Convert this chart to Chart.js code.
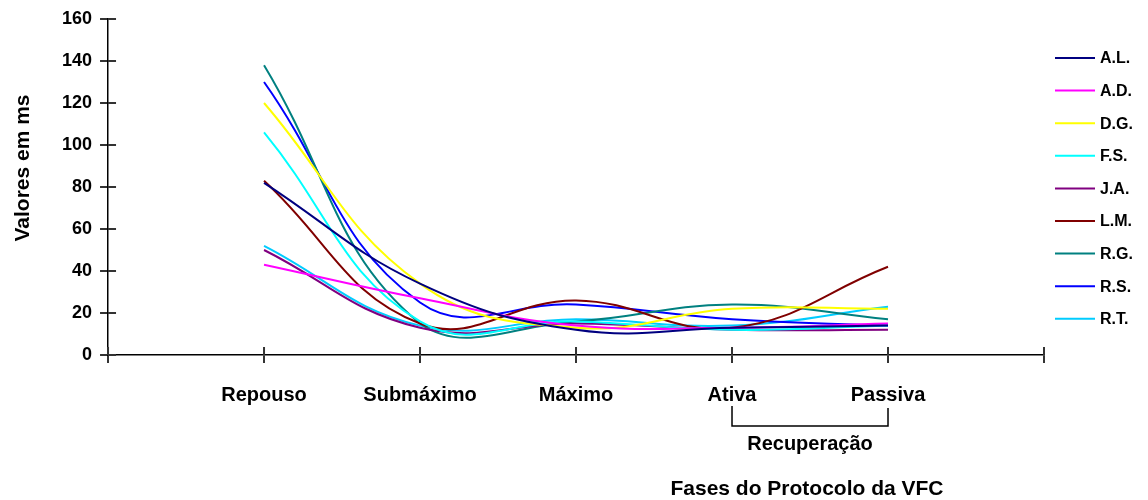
<!DOCTYPE html>
<html>
<head>
<meta charset="utf-8">
<script src="https://cdn.jsdelivr.net/npm/chart.js@4/dist/chart.umd.min.js"></script>
<style>
  html, body { margin: 0; padding: 0; background: #fff; }
  #wrap { width: 1148px; height: 500px; }
</style>
</head>
<body>
<div id="wrap"><canvas id="c"></canvas></div>
<script>
// Phases of the HRV protocol (x positions 1..5 on the axis)
const categories = ['Repouso', 'Submáximo', 'Máximo', 'Ativa', 'Passiva'];
const subjects = ['A.L.', 'A.D.', 'D.G.', 'F.S.', 'J.A.', 'L.M.', 'R.G.', 'R.S.', 'R.T.'];

// Values in ms per subject, one per phase
const valuesAL = [82, 34, 12, 13, 14];
const valuesAD = [43, 27, 14, 13, 15];
const valuesDG = [120, 34, 13, 22, 22];
const valuesFS = [106, 16, 16, 12, 14];
const valuesJA = [50, 13, 15, 12, 12];
const valuesLM = [83, 15, 26, 13, 42];
const valuesRG = [138, 15, 16, 24, 17];
const valuesRS = [130, 25, 24, 17, 14];
const valuesRT = [52, 14, 17, 14, 23];

const yTicks = [0, 20, 40, 60, 80, 100, 120, 140, 160];

const seriesValues = [valuesAL, valuesAD, valuesDG, valuesFS, valuesJA, valuesLM, valuesRG, valuesRS, valuesRT];
const seriesColors = ['#000080', '#FF00FF', '#FFFF00', '#00FFFF', '#800080', '#800000', '#008080', '#0000FF', '#00CCFF'];

const FONT = '"Liberation Sans", Arial, sans-serif';

const datasets = subjects.map((name, i) => ({
  label: name,
  data: seriesValues[i].map((v, k) => ({ x: k + 1, y: v })),
  borderColor: seriesColors[i],
  backgroundColor: seriesColors[i],
  borderWidth: 2,
  pointRadius: 0,
  tension: 0.42,
  fill: false
}));

// Crossing tick marks, the "Recuperação" bracket, axis titles and legend
const decorations = {
  id: 'decorations',
  afterDraw(chart) {
    const { ctx } = chart;
    const x = chart.scales.x, y = chart.scales.y;
    const axisY = y.getPixelForValue(0);
    ctx.save();

    ctx.strokeStyle = '#333';
    ctx.lineWidth = 2;
    ctx.beginPath();
    x.ticks.forEach(t => {
      const px = x.getPixelForValue(t.value);
      ctx.moveTo(px, axisY);
      ctx.lineTo(px, axisY - 8);
    });
    y.ticks.forEach(t => {
      const py = y.getPixelForValue(t.value);
      ctx.moveTo(x.left, py);
      ctx.lineTo(x.left + 8, py);
    });
    ctx.stroke();

    const xa = x.getPixelForValue(4);
    const xp = x.getPixelForValue(5);
    ctx.strokeStyle = '#000';
    ctx.lineWidth = 1.5;
    ctx.beginPath();
    ctx.moveTo(xa, axisY + 51);
    ctx.lineTo(xa, axisY + 71);
    ctx.lineTo(xp, axisY + 71);
    ctx.lineTo(xp, axisY + 53);
    ctx.stroke();

    ctx.fillStyle = '#000';
    ctx.textAlign = 'center';
    ctx.textBaseline = 'middle';
    ctx.font = 'bold 20px ' + FONT;
    ctx.fillText('Recuperação', (xa + xp) / 2, axisY + 89);
    ctx.font = 'bold 21px ' + FONT;
    ctx.fillText('Fases do Protocolo da VFC', (xa + xp) / 2 - 3, axisY + 134);

    // vertical axis title
    ctx.save();
    ctx.translate(23, 168);
    ctx.rotate(-Math.PI / 2);
    ctx.font = 'bold 21px ' + FONT;
    ctx.fillText('Valores em ms', 0, 0);
    ctx.restore();

    ctx.textAlign = 'left';
    ctx.font = 'bold 16px ' + FONT;
    chart.data.datasets.forEach((ds, i) => {
      const ly = 58 + i * 32.6;
      ctx.strokeStyle = ds.borderColor;
      ctx.lineWidth = 2;
      ctx.beginPath();
      ctx.moveTo(1055, ly);
      ctx.lineTo(1095, ly);
      ctx.stroke();
      ctx.fillStyle = '#000';
      ctx.fillText(ds.label, 1100, ly + 1);
    });
    ctx.restore();
  }
};

new Chart(document.getElementById('c'), {
  type: 'line',
  data: { datasets },
  options: {
    responsive: true,
    maintainAspectRatio: false,
    animation: false,
    layout: { padding: { top: 19, right: 104, bottom: 73, left: 54 } },
    plugins: {
      legend: { display: false },
      tooltip: { enabled: false }
    },
    scales: {
      x: {
        type: 'linear',
        min: 0,
        max: categories.length + 1,
        grid: { drawOnChartArea: false, drawTicks: true, tickLength: 8, color: '#333', lineWidth: 2 },
        border: { color: '#000', width: 1.5 },
        afterBuildTicks(scale) {
          scale.ticks = Array.from({ length: categories.length + 2 }, (_, k) => ({ value: k }));
        },
        ticks: {
          autoSkip: false,
          maxRotation: 0,
          padding: 20,
          color: '#000',
          font: { family: FONT, size: 20, weight: 'bold' },
          callback: v => categories[v - 1] || ''
        }
      },
      y: {
        min: 0,
        max: 160,
        afterBuildTicks(scale) {
          scale.ticks = yTicks.map(v => ({ value: v }));
        },
        grid: { drawOnChartArea: false, drawTicks: true, tickLength: 8, color: '#333', lineWidth: 2 },
        border: { color: '#000', width: 1.5 },
        ticks: {
          padding: 8,
          color: '#000',
          font: { family: FONT, size: 18, weight: 'bold' }
        }
      }
    }
  },
  plugins: [decorations]
});
</script>
</body>
</html>
